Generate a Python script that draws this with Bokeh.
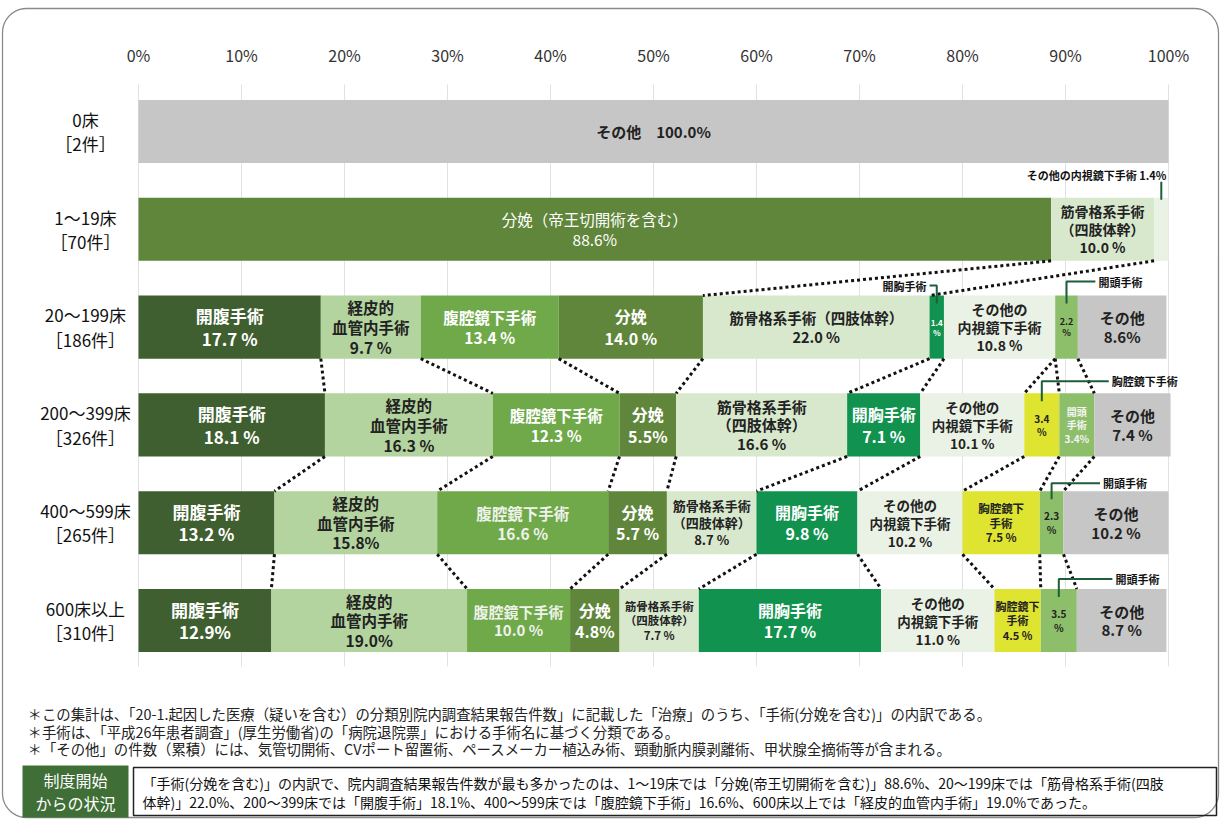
import numpy as np
from bokeh.plotting import figure
from bokeh.models import Range1d, ColumnDataSource
from bokeh.embed import file_html
from bokeh.resources import INLINE
from bokeh.core.properties import value

# ---------------- data ----------------
categories = ["開腹手術", "経皮的血管内手術", "腹腔鏡下手術", "分娩", "筋骨格系手術（四肢体幹）",
              "開胸手術", "その他の内視鏡下手術", "胸腔鏡下手術", "開頭手術", "その他"]
row_labels = ["0床\n［2件］", "1～19床\n［70件］", "20～199床\n［186件］",
              "200～399床\n［326件］", "400～599床\n［265件］", "600床以上\n［310件］"]
beds_0 = [0, 0, 0, 0, 0, 0, 0, 0, 0, 100.0]
beds_1_19 = [0, 0, 0, 88.6, 10.0, 0, 1.4, 0, 0, 0]
beds_20_199 = [17.7, 9.7, 13.4, 14.0, 22.0, 1.4, 10.8, 0, 2.2, 8.6]
beds_200_399 = [18.1, 16.3, 12.3, 5.5, 16.6, 7.1, 10.1, 3.4, 3.4, 7.4]
beds_400_599 = [13.2, 15.8, 16.6, 5.7, 8.7, 9.8, 10.2, 7.5, 2.3, 10.2]
beds_600 = [12.9, 19.0, 10.0, 4.8, 7.7, 17.7, 11.0, 4.5, 3.5, 8.7]
x_ticks = [0, 10, 20, 30, 40, 50, 60, 70, 80, 90, 100]
x_tick_labels = ["0%", "10%", "20%", "30%", "40%", "50%", "60%", "70%", "80%", "90%", "100%"]

# segment label templates ({v} = value)
seg_text = [
    [None] * 9 + ["その他　{v}%"],
    [None, None, None, "分娩（帝王切開術を含む）\n{v}%", "筋骨格系手術\n（四肢体幹）\n{v} %", None, None, None, None, None],
    ["開腹手術\n{v} %", "経皮的\n血管内手術\n{v} %", "腹腔鏡下手術\n{v} %", "分娩\n{v} %",
     "筋骨格系手術（四肢体幹）\n{v} %", "{v}\n%", "その他の\n内視鏡下手術\n{v} %", None, "{v}\n%", "その他\n{v}%"],
    ["開腹手術\n{v} %", "経皮的\n血管内手術\n{v} %", "腹腔鏡下手術\n{v} %", "分娩\n{v}%",
     "筋骨格系手術\n（四肢体幹）\n{v} %", "開胸手術\n{v} %", "その他の\n内視鏡下手術\n{v} %", "{v}\n%", "開頭\n手術\n{v}%", "その他\n{v} %"],
    ["開腹手術\n{v} %", "経皮的\n血管内手術\n{v}%", "腹腔鏡下手術\n{v} %", "分娩\n{v} %",
     "筋骨格系手術\n（四肢体幹）\n{v} %", "開胸手術\n{v} %", "その他の\n内視鏡下手術\n{v} %", "胸腔鏡下\n手術\n{v} %", "{v}\n%", "その他\n{v} %"],
    ["開腹手術\n{v}%", "経皮的\n血管内手術\n{v}%", "腹腔鏡下手術\n{v} %", "分娩\n{v}%",
     "筋骨格系手術\n（四肢体幹）\n{v} %", "開胸手術\n{v} %", "その他の\n内視鏡下手術\n{v} %", "胸腔鏡下\n手術\n{v} %", "{v}\n%", "その他\n{v} %"],
]

notes = [
    "＊この集計は、「20-1.起因した医療（疑いを含む）の分類別院内調査結果報告件数」に記載した「治療」のうち、「手術(分娩を含む)」の内訳である。",
    "＊手術は、「平成26年患者調査」(厚生労働省)の「病院退院票」における手術名に基づく分類である。",
    "＊「その他」の件数（累積）には、気管切開術、CVポート留置術、ペースメーカー植込み術、頸動脈内膜剥離術、甲状腺全摘術等が含まれる。",
]
box_title = "制度開始\nからの状況"
box_text = ("「手術(分娩を含む)」の内訳で、院内調査結果報告件数が最も多かったのは、1～19床では「分娩(帝王切開術を含む)」88.6%、20～199床では「筋骨格系手術(四肢\n"
            "体幹)」22.0%、200～399床では「開腹手術」18.1%、400～599床では「腹腔鏡下手術」16.6%、600床以上では「経皮的血管内手術」19.0%であった。")

rows = [beds_0, beds_1_19, beds_20_199, beds_200_399, beds_400_599, beds_600]

# ---------------- styles / layout ----------------
colors = ["#3f5f30", "#b3d49f", "#70a94a", "#5f863a", "#d8e8cd",
          "#12924f", "#eaf2e5", "#dfe430", "#8dbf6b", "#c6c6c6"]
text_colors = ["#ffffff", "#222222", "#ffffff", "#ffffff", "#222222",
               "#ffffff", "#222222", "#222222", "#222222", "#222222"]
base_sizes = [17, 15.5, 15.5, 16, 15, 16, 14, 12, 11, 15]
FONT = value("Noto Sans CJK JP")
W, H = 1220, 819
PX0, PXU = 138.0, 10.3      # pixel of 0%, pixels per 1%
ROW0, ROWH = 131.0, 97.8    # pixel of first row centre, row pitch
BAR_H = 0.645
size_override = {(0, 9): 15, (1, 3): 15.5, (1, 4): 14,
                 (2, 4): 14.5, (2, 5): 8, (2, 8): 9, (2, 6): 14,
                 (3, 4): 15, (3, 6): 13.5, (3, 7): 10, (3, 8): 10,
                 (4, 4): 13, (4, 6): 13.5, (4, 7): 11.5, (4, 8): 10,
                 (5, 4): 11.5, (5, 2): 15, (5, 6): 13.5, (5, 7): 11, (5, 8): 10}
color_override = {(3, 8): "#f4f4f4", (1, 3): "#ffffff", (4, 2): "#eef2ea", (5, 2): "#eef2ea"}
style_override = {(1, 3): "normal"}

p = figure(width=W, height=H, output_backend="svg", toolbar_location=None,
           x_axis_type=None, y_axis_type=None, min_border=0,
           x_range=Range1d(-PX0 / PXU, (W - PX0) / PXU),
           y_range=Range1d((H - ROW0) / ROWH, -ROW0 / ROWH))
p.extra_x_ranges = {"px": Range1d(0, W)}
p.extra_y_ranges = {"px": Range1d(H, 0)}
p.outline_line_color = None
p.background_fill_color = "white"
p.grid.visible = False

# rounded outer border
r = 24.0
x0b, x1b, y0b, y1b = 2.0, W - 2.0, 8.0, H - 2.0
pts_x, pts_y = [], []
for cx, cy, a0 in [(x0b + r, y0b + r, 180), (x1b - r, y0b + r, 270), (x1b - r, y1b - r, 0), (x0b + r, y1b - r, 90)]:
    t = np.radians(np.linspace(a0, a0 + 90, 12))
    pts_x += list(cx + r * np.cos(t))
    pts_y += list(cy + r * np.sin(t))
pts_x.append(pts_x[0]); pts_y.append(pts_y[0])
p.line(pts_x, pts_y, x_range_name="px", y_range_name="px", line_color="#8a8a8a", line_width=1.3)

# grid lines
p.segment(x0=x_ticks, x1=x_ticks, y0=[-0.48] * len(x_ticks), y1=[5.47] * len(x_ticks),
          line_color="#e2e2e2", line_width=1)
# tick labels (top axis)
p.text(x=x_ticks, y=[-0.78] * len(x_ticks), text=x_tick_labels, text_font=FONT,
       text_font_size="16px", text_color="#333333", text_align="center", text_baseline="middle")
# row labels
p.text(x=[-5.15] * len(row_labels), y=list(range(len(row_labels))), text=row_labels, text_font=FONT,
       text_font_size="17px", text_color="#111111", text_align="center", text_baseline="middle",
       text_line_height=0.98)

# bars
bl, br, by, bc = [], [], [], []
lx, ly, lt, lc, ls, lw = [], [], [], [], [], []
cums = []
for i, vals in enumerate(rows):
    cum = np.cumsum(vals)
    cums.append(cum)
    left = cum - np.array(vals)
    for k, v in enumerate(vals):
        if v <= 0:
            continue
        bl.append(left[k]); br.append(cum[k]); by.append(i); bc.append(colors[k])
        tpl = seg_text[i][k]
        if tpl:
            lx.append((left[k] + cum[k]) / 2); ly.append(i)
            lt.append(tpl.format(v=f"{v:.1f}"))
            lc.append(color_override.get((i, k), text_colors[k]))
            ls.append(f"{size_override.get((i, k), base_sizes[k])}px")
            lw.append(style_override.get((i, k), "bold"))
p.hbar(y=by, left=bl, right=br, height=BAR_H, fill_color=bc, line_color=None)

# dotted connectors between rows
gaps = [(1, 2, [3, 4]), (2, 3, list(range(9))), (3, 4, list(range(9))), (4, 5, list(range(9)))]
cx0, cx1, cy0, cy1 = [], [], [], []
for up, lo, ks in gaps:
    for k in ks:
        cx0.append(cums[up][k]); cy0.append(up + BAR_H / 2)
        cx1.append(cums[lo][k]); cy1.append(lo - BAR_H / 2)
p.segment(x0=cx0, y0=cy0, x1=cx1, y1=cy1, line_color="#111111", line_width=3, line_dash="3 3")

# segment labels
src = ColumnDataSource(dict(x=lx, y=ly, t=lt, c=lc, s=ls, w=lw))
p.text(x="x", y="y", text="t", text_color="c", text_font_size="s", text_font_style="w",
       text_font=FONT, text_align="center", text_baseline="middle", text_line_height=0.9, source=src)

# callouts for small segments: (row, category, dx in %, dy px above bar top, align)
callouts = [(1, 6, 0.5, -23, "right"), (2, 5, -1.0, -10, "right"), (2, 8, 3.1, -14, "left"),
            (3, 7, 6.8, -12, "left"), (4, 8, 5.0, -8, "left"), (5, 8, 5.5, -10, "left")]
for i, k, dx, dy, al in callouts:
    vals = rows[i]
    c = cums[i][k] - vals[k] / 2
    top = ROW0 + ROWH * i - BAR_H * ROWH / 2
    yl = top + dy
    name = categories[k]
    txt = f"{name} {vals[k]:.1f}%" if i == 1 else name
    tx = c + dx
    p.text(x=[tx], y=[yl], y_range_name="px", text=[txt], text_font=FONT, text_font_size="11px",
           text_font_style="bold", text_color="#111111", text_align=al, text_baseline="middle")
    if i == 1:
        p.line(x=[c, c], y=[yl + 7, top + 2], y_range_name="px", line_color="#1d5e3c", line_width=2)
    else:
        edge = tx - 0.3 if al == "left" else tx + 0.3
        p.line(x=[edge, c, c], y=[yl, yl, top + 8], y_range_name="px", line_color="#1d5e3c", line_width=2)

# notes
p.text(x=[27, 27, 27], y=[713, 731, 748], x_range_name="px", y_range_name="px", text=notes,
       text_font=FONT, text_font_size="14.4px", text_color="#222222", text_align="left", text_baseline="middle")
p.quad(left=[22], right=[128], top=[765], bottom=[817], x_range_name="px", y_range_name="px",
       fill_color="#3f6e37", line_color=None)
p.text(x=[75], y=[791], x_range_name="px", y_range_name="px", text=[box_title], text_font=FONT,
       text_font_size="16px", text_color="#ffffff", text_align="center", text_baseline="middle",
       text_line_height=0.98)
p.quad(left=[133], right=[1216], top=[767], bottom=[815], x_range_name="px", y_range_name="px",
       fill_color=None, line_color="#222222", line_width=1.5)
p.text(x=[142], y=[792], x_range_name="px", y_range_name="px", text=[box_text], text_font=FONT,
       text_font_size="14px", text_color="#111111", text_align="left", text_baseline="middle",
       text_line_height=0.98)

open("out.html", "w").write(file_html(p, INLINE))
